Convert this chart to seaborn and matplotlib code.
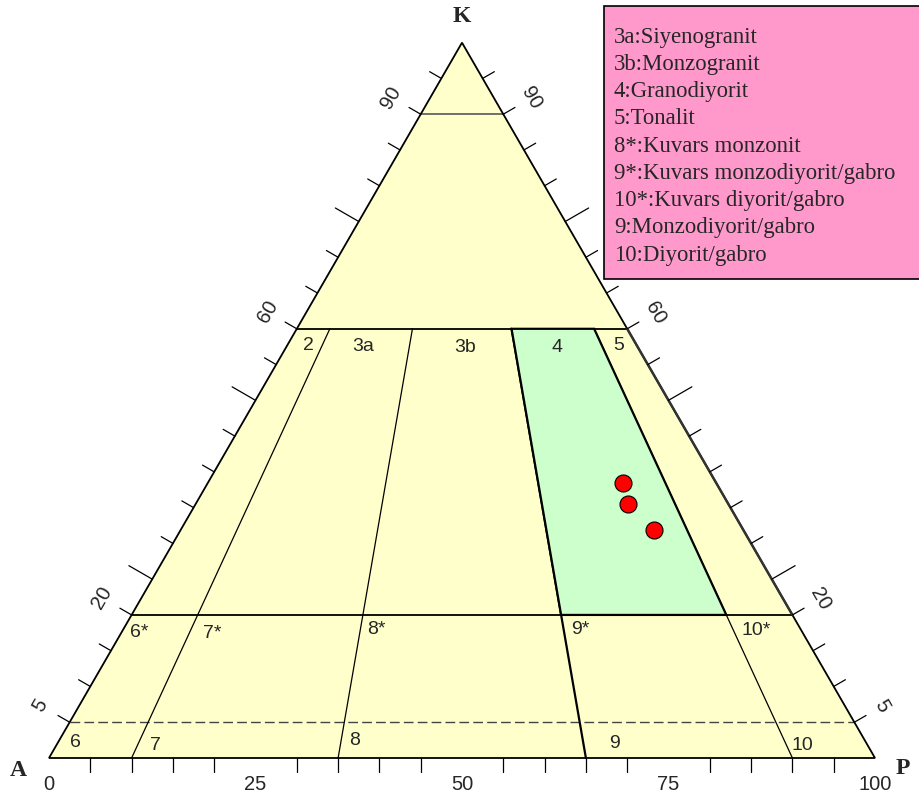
import numpy as np
import pandas as pd
import matplotlib
matplotlib.use('Agg')
import matplotlib.pyplot as plt
import seaborn as sns
from matplotlib.patches import Polygon, Rectangle

sns.set_style("white")
plt.rcParams['font.family'] = ['Liberation Sans', 'DejaVu Sans']

# Sample points (Q, A, P in %)
sample_q = [38.5, 35.5, 31.9]
sample_a = [11.2, 12.2, 10.8]
sample_p = [50.3, 52.3, 57.3]

# Streckeisen QAP field boundaries
q_levels = [20, 60, 90]          # solid horizontal lines
q_dashed = 5                     # dashed line
ratio_lines = [10, 35, 65, 90]   # P/(A+P) boundaries, from Q=0 up to Q=60
ratio_top = 60
green_ratio = (65, 90)
green_q = (20, 60)

side_labels = [5, 20, 60, 90]
bottom_labels = [0, 25, 50, 75, 100]
long_ticks = [25, 50, 75]

field_names = ['2', '3a', '3b', '4', '5', '6*', '7*', '8*', '9*', '10*', '6', '7', '8', '9', '10']
# label anchor in (Q, P/(A+P)) terms
field_q = [57.7, 57.5, 57.4, 57.4, 57.6, 17.5, 17.4, 18.0, 17.9, 17.8, 2.2, 1.7, 2.5, 2.0, 1.7]
field_r = [6.0, 21.9, 50.8, 76.9, 94.6, 2.7, 13.4, 37.4, 67.4, 93.3, 2.2, 12.3, 36.7, 68.8, 91.9]

legend_lines = ['3a:Siyenogranit', '3b:Monzogranit', '4:Granodiyorit', '5:Tonalit',
                '8*:Kuvars monzonit', '9*:Kuvars monzodiyorit/gabro',
                '10*:Kuvars diyorit/gabro', '9:Monzodiyorit/gabro', '10:Diyorit/gabro']

H = np.sqrt(3) / 2
PX = 8.26  # pixels per unit


def tern(a, p, q):
    s = a + p + q
    return 100 * (p + q / 2) / s, 100 * q * H / s


def at(q, r):
    # point at quartz level q with plagioclase ratio r (both %)
    return tern((100 - q) * (1 - r / 100), (100 - q) * r / 100, q)


fig = plt.figure(figsize=(9.19, 7.97), dpi=100)
ax = fig.add_axes([0, 0, 1, 1])
ax.set_xlim(-49 / PX, (919 - 49) / PX)
ax.set_ylim(-(797 - 758) / PX, 758 / PX)
ax.axis('off')

A, P, K = tern(100, 0, 0), tern(0, 100, 0), tern(0, 0, 100)

# background fill and green field
ax.add_patch(Polygon([A, P, K], closed=True, facecolor='#FFFFCC', edgecolor='none', zorder=1))
g = [at(green_q[0], green_ratio[0]), at(green_q[0], green_ratio[1]),
     at(green_q[1], green_ratio[1]), at(green_q[1], green_ratio[0])]
ax.add_patch(Polygon(g, closed=True, facecolor='#CCFFCC', edgecolor='black', lw=1.6, zorder=3))

# horizontal Q lines
for q in q_levels:
    x0, y0 = at(q, 0)
    x1, y1 = at(q, 100)
    col = '#666666' if q == 90 else 'black'
    ax.plot([x0, x1], [y0, y1], color=col, lw=1.3, zorder=2)
x0, y0 = at(q_dashed, 0)
x1, y1 = at(q_dashed, 100)
ax.plot([x0, x1], [y0, y1], color='#444444', lw=1.0, dashes=(7, 3), zorder=2)

# ratio lines
for r in ratio_lines:
    x0, y0 = at(0, r)
    x1, y1 = at(ratio_top, r)
    ax.plot([x0, x1], [y0, y1], color='black', lw=1.6 if r == 65 else 0.9, zorder=2)

# triangle outline
ax.add_patch(Polygon([A, P, K], closed=True, facecolor='none', edgecolor='black', lw=1.3, zorder=4))
# right edge of field 5 drawn a bit heavier
x0, y0 = at(green_q[0], 100)
x1, y1 = at(green_q[1], 100)
ax.plot([x0, x1], [y0, y1], color='#333333', lw=1.8, zorder=4)

# side ticks
short_len, long_len = 13.5 / PX, 27 / PX
nl = np.array([-H, 0.5])
nr = np.array([H, 0.5])
for q in range(5, 100, 5):
    L = long_len if q in long_ticks else short_len
    pl = np.array([q / 2, q * H])
    pr = np.array([100 - q / 2, q * H])
    ax.plot(*zip(pl, pl + nl * L), color='black', lw=0.9, zorder=4)
    ax.plot(*zip(pr, pr + nr * L), color='black', lw=0.9, zorder=4)
    if q not in long_ticks:
        ax.plot([q, q], [0, -14 / PX], color='black', lw=0.9, zorder=4)

for q in side_labels:
    pl = np.array([q / 2, q * H]) + nl * 34 / PX
    pr = np.array([100 - q / 2, q * H]) + nr * 32 / PX
    ax.text(pl[0], pl[1], str(q), rotation=60, ha='center', va='center', fontsize=14.5)
    ax.text(pr[0], pr[1], str(q), rotation=-60, ha='center', va='center', fontsize=14.5)

for v in bottom_labels:
    ax.text(v, -26 / PX, str(v), ha='center', va='center', fontsize=14.5)

# vertex labels
serif = ['Liberation Serif', 'DejaVu Serif']
ax.text(K[0], K[1] + 26 / PX, 'K', family=serif, fontweight='bold', fontsize=17, ha='center', va='center')
ax.text(A[0] - 31 / PX, A[1] - 12 / PX, 'A', family=serif, fontweight='bold', fontsize=17, ha='center', va='center')
ax.text(P[0] + 28 / PX, P[1] - 10 / PX, 'P', family=serif, fontweight='bold', fontsize=17, ha='center', va='center')

# field labels
for name, q, r in zip(field_names, field_q, field_r):
    x, y = at(q, r)
    ax.text(x, y, name, ha='center', va='center', fontsize=14, zorder=5)

# samples
xs, ys = tern(np.array(sample_a), np.array(sample_p), np.array(sample_q))
df = pd.DataFrame({'x': xs, 'y': ys})
sns.scatterplot(data=df, x='x', y='y', ax=ax, color='#FF0000', edgecolor='black',
                linewidth=0.8, s=150, zorder=6, legend=False)
ax.set_xlabel('')
ax.set_ylabel('')

# legend box
ax.add_patch(Rectangle(((604 - 49) / PX, (758 - 279) / PX), 50, 273 / PX,
                       facecolor='#FF99CC', edgecolor='black', lw=1.2, zorder=7))
for i, line in enumerate(legend_lines):
    ax.text((614 - 49) / PX, (758 - 42.7 - i * 27.25) / PX, line, family=serif,
            fontsize=16.4, ha='left', va='baseline', zorder=8)

fig.savefig('out.png', dpi=100)
